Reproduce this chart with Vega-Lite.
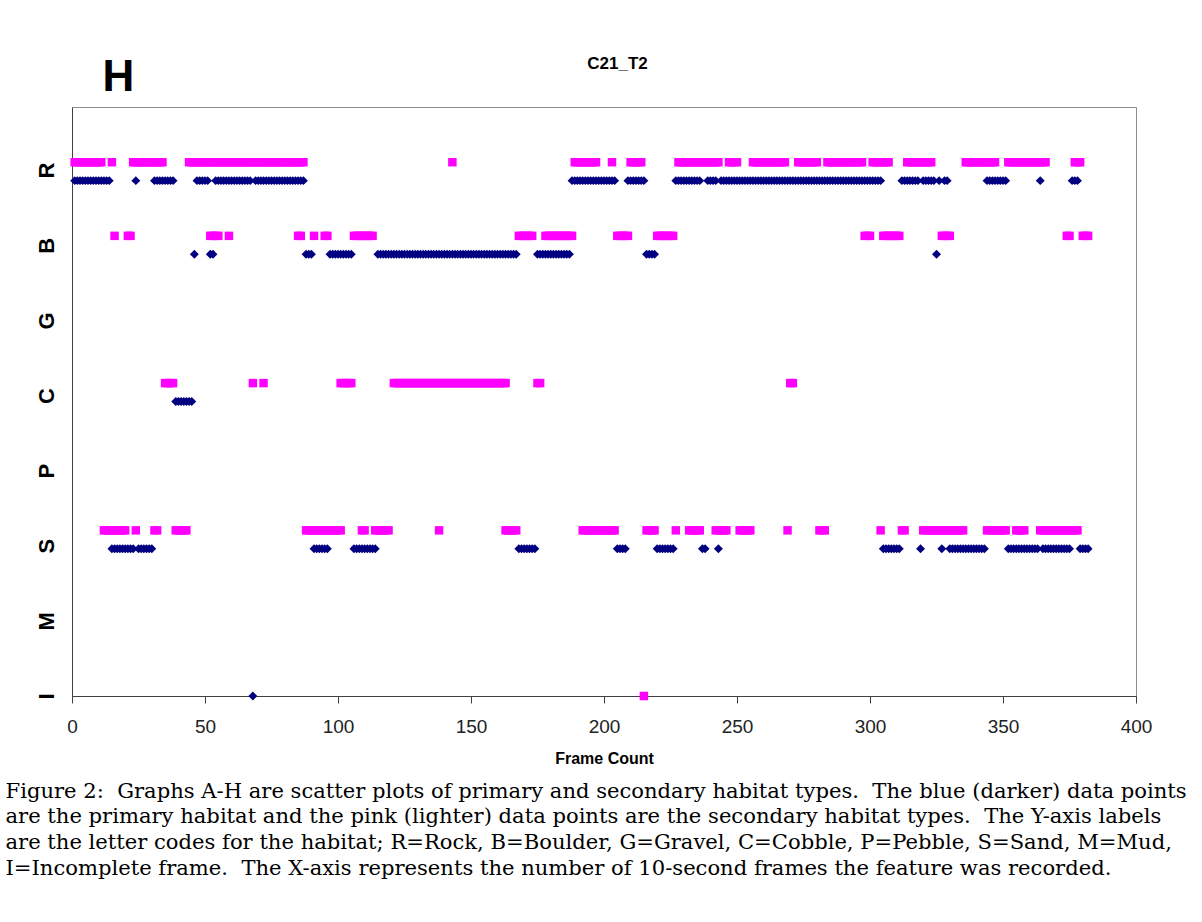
{
  "$schema": "https://vega.github.io/schema/vega-lite/v6.json",
  "width": 1064,
  "height": 589,
  "autosize": {"type": "none"},
  "padding": {"left": 72, "top": 107, "right": 66, "bottom": 226},
  "background": "white",
  "config": {"view": {"stroke": "#8c8c8c", "strokeWidth": 1}, "font": "Liberation Sans"},
  "datasets": {
    "primary": [
      {"f":1,"h":"R"},{"f":2,"h":"R"},{"f":3,"h":"R"},{"f":4,"h":"R"},{"f":5,"h":"R"},{"f":6,"h":"R"},{"f":7,"h":"R"},{"f":8,"h":"R"},{"f":9,"h":"R"},{"f":10,"h":"R"},{"f":11,"h":"R"},{"f":12,"h":"R"},{"f":13,"h":"R"},{"f":14,"h":"R"},
      {"f":15,"h":"S"},{"f":16,"h":"S"},{"f":17,"h":"S"},{"f":18,"h":"S"},{"f":19,"h":"S"},{"f":20,"h":"S"},{"f":21,"h":"S"},{"f":22,"h":"S"},{"f":23,"h":"S"},
      {"f":24,"h":"R"},
      {"f":25,"h":"S"},{"f":26,"h":"S"},{"f":27,"h":"S"},{"f":28,"h":"S"},{"f":29,"h":"S"},{"f":30,"h":"S"},
      {"f":31,"h":"R"},{"f":32,"h":"R"},{"f":33,"h":"R"},{"f":34,"h":"R"},{"f":35,"h":"R"},{"f":36,"h":"R"},{"f":37,"h":"R"},{"f":38,"h":"R"},
      {"f":39,"h":"C"},{"f":40,"h":"C"},{"f":41,"h":"C"},{"f":42,"h":"C"},{"f":43,"h":"C"},{"f":44,"h":"C"},{"f":45,"h":"C"},
      {"f":46,"h":"B"},
      {"f":47,"h":"R"},{"f":48,"h":"R"},{"f":49,"h":"R"},{"f":50,"h":"R"},{"f":51,"h":"R"},
      {"f":52,"h":"B"},{"f":53,"h":"B"},
      {"f":54,"h":"R"},{"f":55,"h":"R"},{"f":56,"h":"R"},{"f":57,"h":"R"},{"f":58,"h":"R"},{"f":59,"h":"R"},{"f":60,"h":"R"},{"f":61,"h":"R"},{"f":62,"h":"R"},{"f":63,"h":"R"},{"f":64,"h":"R"},{"f":65,"h":"R"},{"f":66,"h":"R"},{"f":67,"h":"R"},
      {"f":68,"h":"I"},
      {"f":69,"h":"R"},{"f":70,"h":"R"},{"f":71,"h":"R"},{"f":72,"h":"R"},{"f":73,"h":"R"},{"f":74,"h":"R"},{"f":75,"h":"R"},{"f":76,"h":"R"},{"f":77,"h":"R"},{"f":78,"h":"R"},{"f":79,"h":"R"},{"f":80,"h":"R"},{"f":81,"h":"R"},{"f":82,"h":"R"},{"f":83,"h":"R"},{"f":84,"h":"R"},{"f":85,"h":"R"},{"f":86,"h":"R"},{"f":87,"h":"R"},
      {"f":88,"h":"B"},{"f":89,"h":"B"},{"f":90,"h":"B"},
      {"f":91,"h":"S"},{"f":92,"h":"S"},{"f":93,"h":"S"},{"f":94,"h":"S"},{"f":95,"h":"S"},{"f":96,"h":"S"},
      {"f":97,"h":"B"},{"f":98,"h":"B"},{"f":99,"h":"B"},{"f":100,"h":"B"},{"f":101,"h":"B"},{"f":102,"h":"B"},{"f":103,"h":"B"},{"f":104,"h":"B"},{"f":105,"h":"B"},
      {"f":106,"h":"S"},{"f":107,"h":"S"},{"f":108,"h":"S"},{"f":109,"h":"S"},{"f":110,"h":"S"},{"f":111,"h":"S"},{"f":112,"h":"S"},{"f":113,"h":"S"},{"f":114,"h":"S"},
      {"f":115,"h":"B"},{"f":116,"h":"B"},{"f":117,"h":"B"},{"f":118,"h":"B"},{"f":119,"h":"B"},{"f":120,"h":"B"},{"f":121,"h":"B"},{"f":122,"h":"B"},{"f":123,"h":"B"},{"f":124,"h":"B"},{"f":125,"h":"B"},{"f":126,"h":"B"},{"f":127,"h":"B"},{"f":128,"h":"B"},{"f":129,"h":"B"},{"f":130,"h":"B"},{"f":131,"h":"B"},{"f":132,"h":"B"},{"f":133,"h":"B"},{"f":134,"h":"B"},{"f":135,"h":"B"},{"f":136,"h":"B"},{"f":137,"h":"B"},{"f":138,"h":"B"},{"f":139,"h":"B"},{"f":140,"h":"B"},{"f":141,"h":"B"},{"f":142,"h":"B"},{"f":143,"h":"B"},{"f":144,"h":"B"},{"f":145,"h":"B"},{"f":146,"h":"B"},{"f":147,"h":"B"},{"f":148,"h":"B"},{"f":149,"h":"B"},{"f":150,"h":"B"},{"f":151,"h":"B"},{"f":152,"h":"B"},{"f":153,"h":"B"},{"f":154,"h":"B"},{"f":155,"h":"B"},{"f":156,"h":"B"},{"f":157,"h":"B"},{"f":158,"h":"B"},{"f":159,"h":"B"},{"f":160,"h":"B"},{"f":161,"h":"B"},{"f":162,"h":"B"},{"f":163,"h":"B"},{"f":164,"h":"B"},{"f":165,"h":"B"},{"f":166,"h":"B"},{"f":167,"h":"B"},
      {"f":168,"h":"S"},{"f":169,"h":"S"},{"f":170,"h":"S"},{"f":171,"h":"S"},{"f":172,"h":"S"},{"f":173,"h":"S"},{"f":174,"h":"S"},
      {"f":175,"h":"B"},{"f":176,"h":"B"},{"f":177,"h":"B"},{"f":178,"h":"B"},{"f":179,"h":"B"},{"f":180,"h":"B"},{"f":181,"h":"B"},{"f":182,"h":"B"},{"f":183,"h":"B"},{"f":184,"h":"B"},{"f":185,"h":"B"},{"f":186,"h":"B"},{"f":187,"h":"B"},
      {"f":188,"h":"R"},{"f":189,"h":"R"},{"f":190,"h":"R"},{"f":191,"h":"R"},{"f":192,"h":"R"},{"f":193,"h":"R"},{"f":194,"h":"R"},{"f":195,"h":"R"},{"f":196,"h":"R"},{"f":197,"h":"R"},{"f":198,"h":"R"},{"f":199,"h":"R"},{"f":200,"h":"R"},{"f":201,"h":"R"},{"f":202,"h":"R"},{"f":203,"h":"R"},{"f":204,"h":"R"},
      {"f":205,"h":"S"},{"f":206,"h":"S"},{"f":207,"h":"S"},{"f":208,"h":"S"},
      {"f":209,"h":"R"},{"f":210,"h":"R"},{"f":211,"h":"R"},{"f":212,"h":"R"},{"f":213,"h":"R"},{"f":214,"h":"R"},{"f":215,"h":"R"},
      {"f":216,"h":"B"},{"f":217,"h":"B"},{"f":218,"h":"B"},{"f":219,"h":"B"},
      {"f":220,"h":"S"},{"f":221,"h":"S"},{"f":222,"h":"S"},{"f":223,"h":"S"},{"f":224,"h":"S"},{"f":225,"h":"S"},{"f":226,"h":"S"},
      {"f":227,"h":"R"},{"f":228,"h":"R"},{"f":229,"h":"R"},{"f":230,"h":"R"},{"f":231,"h":"R"},{"f":232,"h":"R"},{"f":233,"h":"R"},{"f":234,"h":"R"},{"f":235,"h":"R"},{"f":236,"h":"R"},
      {"f":237,"h":"S"},{"f":238,"h":"S"},
      {"f":239,"h":"R"},{"f":240,"h":"R"},{"f":241,"h":"R"},{"f":242,"h":"R"},
      {"f":243,"h":"S"},
      {"f":244,"h":"R"},{"f":245,"h":"R"},{"f":246,"h":"R"},{"f":247,"h":"R"},{"f":248,"h":"R"},{"f":249,"h":"R"},{"f":250,"h":"R"},{"f":251,"h":"R"},{"f":252,"h":"R"},{"f":253,"h":"R"},{"f":254,"h":"R"},{"f":255,"h":"R"},{"f":256,"h":"R"},{"f":257,"h":"R"},{"f":258,"h":"R"},{"f":259,"h":"R"},{"f":260,"h":"R"},{"f":261,"h":"R"},{"f":262,"h":"R"},{"f":263,"h":"R"},{"f":264,"h":"R"},{"f":265,"h":"R"},{"f":266,"h":"R"},{"f":267,"h":"R"},{"f":268,"h":"R"},{"f":269,"h":"R"},{"f":270,"h":"R"},{"f":271,"h":"R"},{"f":272,"h":"R"},{"f":273,"h":"R"},{"f":274,"h":"R"},{"f":275,"h":"R"},{"f":276,"h":"R"},{"f":277,"h":"R"},{"f":278,"h":"R"},{"f":279,"h":"R"},{"f":280,"h":"R"},{"f":281,"h":"R"},{"f":282,"h":"R"},{"f":283,"h":"R"},{"f":284,"h":"R"},{"f":285,"h":"R"},{"f":286,"h":"R"},{"f":287,"h":"R"},{"f":288,"h":"R"},{"f":289,"h":"R"},{"f":290,"h":"R"},{"f":291,"h":"R"},{"f":292,"h":"R"},{"f":293,"h":"R"},{"f":294,"h":"R"},{"f":295,"h":"R"},{"f":296,"h":"R"},{"f":297,"h":"R"},{"f":298,"h":"R"},{"f":299,"h":"R"},{"f":300,"h":"R"},{"f":301,"h":"R"},{"f":302,"h":"R"},{"f":303,"h":"R"},{"f":304,"h":"R"},
      {"f":305,"h":"S"},{"f":306,"h":"S"},{"f":307,"h":"S"},{"f":308,"h":"S"},{"f":309,"h":"S"},{"f":310,"h":"S"},{"f":311,"h":"S"},
      {"f":312,"h":"R"},{"f":313,"h":"R"},{"f":314,"h":"R"},{"f":315,"h":"R"},{"f":316,"h":"R"},{"f":317,"h":"R"},{"f":318,"h":"R"},
      {"f":319,"h":"S"},
      {"f":320,"h":"R"},{"f":321,"h":"R"},{"f":322,"h":"R"},{"f":323,"h":"R"},{"f":324,"h":"R"},
      {"f":325,"h":"B"},
      {"f":326,"h":"R"},
      {"f":327,"h":"S"},
      {"f":328,"h":"R"},{"f":329,"h":"R"},
      {"f":330,"h":"S"},{"f":331,"h":"S"},{"f":332,"h":"S"},{"f":333,"h":"S"},{"f":334,"h":"S"},{"f":335,"h":"S"},{"f":336,"h":"S"},{"f":337,"h":"S"},{"f":338,"h":"S"},{"f":339,"h":"S"},{"f":340,"h":"S"},{"f":341,"h":"S"},{"f":342,"h":"S"},{"f":343,"h":"S"},
      {"f":344,"h":"R"},{"f":345,"h":"R"},{"f":346,"h":"R"},{"f":347,"h":"R"},{"f":348,"h":"R"},{"f":349,"h":"R"},{"f":350,"h":"R"},{"f":351,"h":"R"},
      {"f":352,"h":"S"},{"f":353,"h":"S"},{"f":354,"h":"S"},{"f":355,"h":"S"},{"f":356,"h":"S"},{"f":357,"h":"S"},{"f":358,"h":"S"},{"f":359,"h":"S"},{"f":360,"h":"S"},{"f":361,"h":"S"},{"f":362,"h":"S"},{"f":363,"h":"S"},
      {"f":364,"h":"R"},
      {"f":365,"h":"S"},{"f":366,"h":"S"},{"f":367,"h":"S"},{"f":368,"h":"S"},{"f":369,"h":"S"},{"f":370,"h":"S"},{"f":371,"h":"S"},{"f":372,"h":"S"},{"f":373,"h":"S"},{"f":374,"h":"S"},{"f":375,"h":"S"},
      {"f":376,"h":"R"},{"f":377,"h":"R"},{"f":378,"h":"R"},
      {"f":379,"h":"S"},{"f":380,"h":"S"},{"f":381,"h":"S"},{"f":382,"h":"S"}
    ],
    "secondary": [
      {"f":1,"h":"R"},{"f":2,"h":"R"},{"f":3,"h":"R"},{"f":4,"h":"R"},{"f":5,"h":"R"},{"f":6,"h":"R"},{"f":7,"h":"R"},{"f":8,"h":"R"},{"f":9,"h":"R"},{"f":10,"h":"R"},{"f":11,"h":"R"},
      {"f":15,"h":"R"},
      {"f":23,"h":"R"},{"f":24,"h":"R"},{"f":25,"h":"R"},{"f":26,"h":"R"},{"f":27,"h":"R"},{"f":28,"h":"R"},{"f":29,"h":"R"},{"f":30,"h":"R"},{"f":31,"h":"R"},{"f":32,"h":"R"},{"f":33,"h":"R"},{"f":34,"h":"R"},
      {"f":44,"h":"R"},{"f":45,"h":"R"},{"f":46,"h":"R"},{"f":47,"h":"R"},{"f":48,"h":"R"},{"f":49,"h":"R"},{"f":50,"h":"R"},{"f":51,"h":"R"},{"f":52,"h":"R"},{"f":53,"h":"R"},{"f":54,"h":"R"},{"f":55,"h":"R"},{"f":56,"h":"R"},{"f":57,"h":"R"},{"f":58,"h":"R"},{"f":59,"h":"R"},{"f":60,"h":"R"},{"f":61,"h":"R"},{"f":62,"h":"R"},{"f":63,"h":"R"},{"f":64,"h":"R"},{"f":65,"h":"R"},{"f":66,"h":"R"},{"f":67,"h":"R"},{"f":68,"h":"R"},{"f":69,"h":"R"},{"f":70,"h":"R"},{"f":71,"h":"R"},{"f":72,"h":"R"},{"f":73,"h":"R"},{"f":74,"h":"R"},{"f":75,"h":"R"},{"f":76,"h":"R"},{"f":77,"h":"R"},{"f":78,"h":"R"},{"f":79,"h":"R"},{"f":80,"h":"R"},{"f":81,"h":"R"},{"f":82,"h":"R"},{"f":83,"h":"R"},{"f":84,"h":"R"},{"f":85,"h":"R"},{"f":86,"h":"R"},{"f":87,"h":"R"},
      {"f":143,"h":"R"},
      {"f":189,"h":"R"},{"f":190,"h":"R"},{"f":191,"h":"R"},{"f":192,"h":"R"},{"f":193,"h":"R"},{"f":194,"h":"R"},{"f":195,"h":"R"},{"f":196,"h":"R"},{"f":197,"h":"R"},
      {"f":203,"h":"R"},
      {"f":210,"h":"R"},{"f":211,"h":"R"},{"f":212,"h":"R"},{"f":213,"h":"R"},{"f":214,"h":"R"},
      {"f":228,"h":"R"},{"f":229,"h":"R"},{"f":230,"h":"R"},{"f":231,"h":"R"},{"f":232,"h":"R"},{"f":233,"h":"R"},{"f":234,"h":"R"},{"f":235,"h":"R"},{"f":236,"h":"R"},{"f":237,"h":"R"},{"f":238,"h":"R"},{"f":239,"h":"R"},{"f":240,"h":"R"},{"f":241,"h":"R"},{"f":242,"h":"R"},{"f":243,"h":"R"},
      {"f":247,"h":"R"},{"f":248,"h":"R"},{"f":249,"h":"R"},{"f":250,"h":"R"},
      {"f":256,"h":"R"},{"f":257,"h":"R"},{"f":258,"h":"R"},{"f":259,"h":"R"},{"f":260,"h":"R"},{"f":261,"h":"R"},{"f":262,"h":"R"},{"f":263,"h":"R"},{"f":264,"h":"R"},{"f":265,"h":"R"},{"f":266,"h":"R"},{"f":267,"h":"R"},{"f":268,"h":"R"},
      {"f":273,"h":"R"},{"f":274,"h":"R"},{"f":275,"h":"R"},{"f":276,"h":"R"},{"f":277,"h":"R"},{"f":278,"h":"R"},{"f":279,"h":"R"},{"f":280,"h":"R"},
      {"f":284,"h":"R"},{"f":285,"h":"R"},{"f":286,"h":"R"},{"f":287,"h":"R"},{"f":288,"h":"R"},{"f":289,"h":"R"},{"f":290,"h":"R"},{"f":291,"h":"R"},{"f":292,"h":"R"},{"f":293,"h":"R"},{"f":294,"h":"R"},{"f":295,"h":"R"},{"f":296,"h":"R"},{"f":297,"h":"R"},
      {"f":301,"h":"R"},{"f":302,"h":"R"},{"f":303,"h":"R"},{"f":304,"h":"R"},{"f":305,"h":"R"},{"f":306,"h":"R"},{"f":307,"h":"R"},
      {"f":314,"h":"R"},{"f":315,"h":"R"},{"f":316,"h":"R"},{"f":317,"h":"R"},{"f":318,"h":"R"},{"f":319,"h":"R"},{"f":320,"h":"R"},{"f":321,"h":"R"},{"f":322,"h":"R"},{"f":323,"h":"R"},
      {"f":336,"h":"R"},{"f":337,"h":"R"},{"f":338,"h":"R"},{"f":339,"h":"R"},{"f":340,"h":"R"},{"f":341,"h":"R"},{"f":342,"h":"R"},{"f":343,"h":"R"},{"f":344,"h":"R"},{"f":345,"h":"R"},{"f":346,"h":"R"},{"f":347,"h":"R"},
      {"f":352,"h":"R"},{"f":353,"h":"R"},{"f":354,"h":"R"},{"f":355,"h":"R"},{"f":356,"h":"R"},{"f":357,"h":"R"},{"f":358,"h":"R"},{"f":359,"h":"R"},{"f":360,"h":"R"},{"f":361,"h":"R"},{"f":362,"h":"R"},{"f":363,"h":"R"},{"f":364,"h":"R"},{"f":365,"h":"R"},{"f":366,"h":"R"},
      {"f":377,"h":"R"},{"f":378,"h":"R"},{"f":379,"h":"R"},
      {"f":16,"h":"B"},
      {"f":21,"h":"B"},{"f":22,"h":"B"},
      {"f":52,"h":"B"},{"f":53,"h":"B"},{"f":54,"h":"B"},{"f":55,"h":"B"},
      {"f":59,"h":"B"},
      {"f":85,"h":"B"},{"f":86,"h":"B"},
      {"f":91,"h":"B"},
      {"f":95,"h":"B"},{"f":96,"h":"B"},
      {"f":106,"h":"B"},{"f":107,"h":"B"},{"f":108,"h":"B"},{"f":109,"h":"B"},{"f":110,"h":"B"},{"f":111,"h":"B"},{"f":112,"h":"B"},{"f":113,"h":"B"},
      {"f":168,"h":"B"},{"f":169,"h":"B"},{"f":170,"h":"B"},{"f":171,"h":"B"},{"f":172,"h":"B"},{"f":173,"h":"B"},
      {"f":178,"h":"B"},{"f":179,"h":"B"},{"f":180,"h":"B"},{"f":181,"h":"B"},{"f":182,"h":"B"},{"f":183,"h":"B"},{"f":184,"h":"B"},{"f":185,"h":"B"},{"f":186,"h":"B"},{"f":187,"h":"B"},{"f":188,"h":"B"},
      {"f":205,"h":"B"},{"f":206,"h":"B"},{"f":207,"h":"B"},{"f":208,"h":"B"},{"f":209,"h":"B"},
      {"f":220,"h":"B"},{"f":221,"h":"B"},{"f":222,"h":"B"},{"f":223,"h":"B"},{"f":224,"h":"B"},{"f":225,"h":"B"},{"f":226,"h":"B"},
      {"f":298,"h":"B"},{"f":299,"h":"B"},{"f":300,"h":"B"},
      {"f":305,"h":"B"},{"f":306,"h":"B"},{"f":307,"h":"B"},{"f":308,"h":"B"},{"f":309,"h":"B"},{"f":310,"h":"B"},{"f":311,"h":"B"},
      {"f":327,"h":"B"},{"f":328,"h":"B"},{"f":329,"h":"B"},{"f":330,"h":"B"},
      {"f":374,"h":"B"},{"f":375,"h":"B"},
      {"f":380,"h":"B"},{"f":381,"h":"B"},{"f":382,"h":"B"},
      {"f":35,"h":"C"},{"f":36,"h":"C"},{"f":37,"h":"C"},{"f":38,"h":"C"},
      {"f":68,"h":"C"},
      {"f":72,"h":"C"},
      {"f":101,"h":"C"},{"f":102,"h":"C"},{"f":103,"h":"C"},{"f":104,"h":"C"},{"f":105,"h":"C"},
      {"f":121,"h":"C"},{"f":122,"h":"C"},{"f":123,"h":"C"},{"f":124,"h":"C"},{"f":125,"h":"C"},{"f":126,"h":"C"},{"f":127,"h":"C"},{"f":128,"h":"C"},{"f":129,"h":"C"},{"f":130,"h":"C"},{"f":131,"h":"C"},{"f":132,"h":"C"},{"f":133,"h":"C"},{"f":134,"h":"C"},{"f":135,"h":"C"},{"f":136,"h":"C"},{"f":137,"h":"C"},{"f":138,"h":"C"},{"f":139,"h":"C"},{"f":140,"h":"C"},{"f":141,"h":"C"},{"f":142,"h":"C"},{"f":143,"h":"C"},{"f":144,"h":"C"},{"f":145,"h":"C"},{"f":146,"h":"C"},{"f":147,"h":"C"},{"f":148,"h":"C"},{"f":149,"h":"C"},{"f":150,"h":"C"},{"f":151,"h":"C"},{"f":152,"h":"C"},{"f":153,"h":"C"},{"f":154,"h":"C"},{"f":155,"h":"C"},{"f":156,"h":"C"},{"f":157,"h":"C"},{"f":158,"h":"C"},{"f":159,"h":"C"},{"f":160,"h":"C"},{"f":161,"h":"C"},{"f":162,"h":"C"},{"f":163,"h":"C"},
      {"f":175,"h":"C"},{"f":176,"h":"C"},
      {"f":270,"h":"C"},{"f":271,"h":"C"},
      {"f":12,"h":"S"},{"f":13,"h":"S"},{"f":14,"h":"S"},{"f":15,"h":"S"},{"f":16,"h":"S"},{"f":17,"h":"S"},{"f":18,"h":"S"},{"f":19,"h":"S"},{"f":20,"h":"S"},
      {"f":24,"h":"S"},
      {"f":31,"h":"S"},{"f":32,"h":"S"},
      {"f":39,"h":"S"},{"f":40,"h":"S"},{"f":41,"h":"S"},{"f":42,"h":"S"},{"f":43,"h":"S"},
      {"f":88,"h":"S"},{"f":89,"h":"S"},{"f":90,"h":"S"},{"f":91,"h":"S"},{"f":92,"h":"S"},{"f":93,"h":"S"},{"f":94,"h":"S"},{"f":95,"h":"S"},{"f":96,"h":"S"},{"f":97,"h":"S"},{"f":98,"h":"S"},{"f":99,"h":"S"},{"f":100,"h":"S"},{"f":101,"h":"S"},
      {"f":109,"h":"S"},{"f":110,"h":"S"},
      {"f":114,"h":"S"},{"f":115,"h":"S"},{"f":116,"h":"S"},{"f":117,"h":"S"},{"f":118,"h":"S"},{"f":119,"h":"S"},
      {"f":138,"h":"S"},
      {"f":163,"h":"S"},{"f":164,"h":"S"},{"f":165,"h":"S"},{"f":166,"h":"S"},{"f":167,"h":"S"},
      {"f":192,"h":"S"},{"f":193,"h":"S"},{"f":194,"h":"S"},{"f":195,"h":"S"},{"f":196,"h":"S"},{"f":197,"h":"S"},{"f":198,"h":"S"},{"f":199,"h":"S"},{"f":200,"h":"S"},{"f":201,"h":"S"},{"f":202,"h":"S"},{"f":203,"h":"S"},{"f":204,"h":"S"},
      {"f":216,"h":"S"},{"f":217,"h":"S"},{"f":218,"h":"S"},{"f":219,"h":"S"},
      {"f":227,"h":"S"},
      {"f":232,"h":"S"},{"f":233,"h":"S"},{"f":234,"h":"S"},{"f":235,"h":"S"},{"f":236,"h":"S"},
      {"f":242,"h":"S"},{"f":243,"h":"S"},{"f":244,"h":"S"},{"f":245,"h":"S"},{"f":246,"h":"S"},
      {"f":251,"h":"S"},{"f":252,"h":"S"},{"f":253,"h":"S"},{"f":254,"h":"S"},{"f":255,"h":"S"},
      {"f":269,"h":"S"},
      {"f":281,"h":"S"},{"f":282,"h":"S"},{"f":283,"h":"S"},
      {"f":304,"h":"S"},
      {"f":312,"h":"S"},{"f":313,"h":"S"},
      {"f":320,"h":"S"},{"f":321,"h":"S"},{"f":322,"h":"S"},{"f":323,"h":"S"},{"f":324,"h":"S"},{"f":325,"h":"S"},{"f":326,"h":"S"},{"f":327,"h":"S"},{"f":328,"h":"S"},{"f":329,"h":"S"},{"f":330,"h":"S"},{"f":331,"h":"S"},{"f":332,"h":"S"},{"f":333,"h":"S"},{"f":334,"h":"S"},{"f":335,"h":"S"},
      {"f":344,"h":"S"},{"f":345,"h":"S"},{"f":346,"h":"S"},{"f":347,"h":"S"},{"f":348,"h":"S"},{"f":349,"h":"S"},{"f":350,"h":"S"},{"f":351,"h":"S"},
      {"f":355,"h":"S"},{"f":356,"h":"S"},{"f":357,"h":"S"},{"f":358,"h":"S"},
      {"f":364,"h":"S"},{"f":365,"h":"S"},{"f":366,"h":"S"},{"f":367,"h":"S"},{"f":368,"h":"S"},{"f":369,"h":"S"},{"f":370,"h":"S"},{"f":371,"h":"S"},{"f":372,"h":"S"},{"f":373,"h":"S"},{"f":374,"h":"S"},{"f":375,"h":"S"},{"f":376,"h":"S"},{"f":377,"h":"S"},{"f":378,"h":"S"},
      {"f":215,"h":"I"}
    ]
  },
  "resolve": {"axis": {"x": "independent", "y": "independent"}},
  "layer": [
    {
      "data": {"name": "secondary"},
      "transform": [{"filter": "datum.h !== 'I'"}],
      "mark": {"type": "point", "shape": "square", "filled": true, "color": "#FF00FF", "opacity": 1, "size": 72, "yOffset": -18.4},
      "encoding": {
        "x": {
          "field": "f", "type": "quantitative",
          "scale": {"domain": [0, 400], "nice": false},
          "axis": {
            "orient": "top", "domain": false, "ticks": false, "labels": false, "grid": false,
            "title": "C21_T2", "titleFont": "Liberation Sans", "titleFontSize": 17, "titleFontWeight": "bold",
            "titleColor": "#000000", "titleAlign": "center", "titleBaseline": "alphabetic",
            "titleX": 545, "titleY": -39
          }
        },
        "y": {
          "field": "h", "type": "nominal",
          "scale": {"type": "point", "domain": ["R", "B", "G", "C", "P", "S", "M", "I"], "paddingOuter": 0.5, "align": 1},
          "axis": null
        }
      }
    },
    {
      "data": {"name": "secondary"},
      "transform": [{"filter": "datum.h === 'I'"}],
      "mark": {"type": "point", "shape": "square", "filled": true, "color": "#FF00FF", "opacity": 1, "size": 72},
      "encoding": {
        "x": {
          "field": "f", "type": "quantitative",
          "scale": {"domain": [0, 400], "nice": false},
          "axis": {
            "orient": "bottom", "domain": false, "ticks": false, "labels": false, "grid": false,
            "title": [
              "Figure 2:\u00a0 Graphs A-H are scatter plots of primary and secondary habitat types.\u00a0 The blue (darker) data points",
              "are the primary habitat and the pink (lighter) data points are the secondary habitat types.\u00a0 The Y-axis labels",
              "are the letter codes for the habitat; R=Rock, B=Boulder, G=Gravel, C=Cobble, P=Pebble, S=Sand, M=Mud,",
              "I=Incomplete frame.\u00a0 The X-axis represents the number of 10-second frames the feature was recorded."
            ],
            "titleFont": "DejaVu Serif", "titleFontSize": 21.1, "titleFontWeight": "normal", "titleColor": "#000000",
            "titleAlign": "left", "titleBaseline": "alphabetic", "titleLineHeight": 25.7,
            "titleX": -67, "titleY": 101
          }
        },
        "y": {
          "field": "h", "type": "nominal",
          "scale": {"type": "point", "domain": ["R", "B", "G", "C", "P", "S", "M", "I"], "paddingOuter": 0.5, "align": 1},
          "axis": null
        }
      }
    },
    {
      "data": {"name": "primary"},
      "mark": {"type": "point", "shape": "diamond", "filled": true, "color": "#000080", "opacity": 1, "size": 80},
      "encoding": {
        "x": {
          "field": "f", "type": "quantitative",
          "scale": {"domain": [0, 400], "nice": false},
          "axis": {
            "orient": "bottom", "values": [0, 50, 100, 150, 200, 250, 300, 350, 400],
            "grid": false, "domainColor": "#404040", "tickColor": "#404040", "tickSize": 7,
            "labelFont": "Liberation Sans", "labelFontSize": 19, "labelColor": "#222222",
            "labelBaseline": "alphabetic", "labelPadding": 29, "labelFlush": false,
            "title": "Frame Count", "titleFont": "Liberation Sans", "titleFontSize": 16, "titleFontWeight": "bold",
            "titleColor": "#000000", "titleBaseline": "alphabetic", "titleY": 67
          }
        },
        "y": {
          "field": "h", "type": "nominal",
          "scale": {"type": "point", "domain": ["R", "B", "G", "C", "P", "S", "M", "I"], "paddingOuter": 0.5, "align": 1},
          "axis": {
            "orient": "left", "grid": false, "ticks": false, "tickSize": 0, "domainColor": "#404040",
            "labelAngle": -90, "labelAlign": "center", "labelBaseline": "alphabetic", "labelPadding": 19,
            "labelFont": "Liberation Sans", "labelFontSize": 22, "labelFontWeight": "bold", "labelColor": "#000000",
            "labelOffset": {
              "condition": [
                {"test": "datum.value === 'R'", "value": -10.5},
                {"test": "datum.value === 'B'", "value": -9},
                {"test": "datum.value === 'G'", "value": -7.5},
                {"test": "datum.value === 'C'", "value": -6},
                {"test": "datum.value === 'P'", "value": -4.5},
                {"test": "datum.value === 'S'", "value": -3},
                {"test": "datum.value === 'M'", "value": -1.5}
              ],
              "value": 0
            },
            "title": "H", "titleAngle": 0, "titleFont": "Liberation Sans", "titleFontSize": 44, "titleFontWeight": "bold",
            "titleColor": "#000000", "titleAlign": "center", "titleBaseline": "alphabetic", "titleX": 46, "titleY": -17
          }
        }
      }
    }
  ]
}
